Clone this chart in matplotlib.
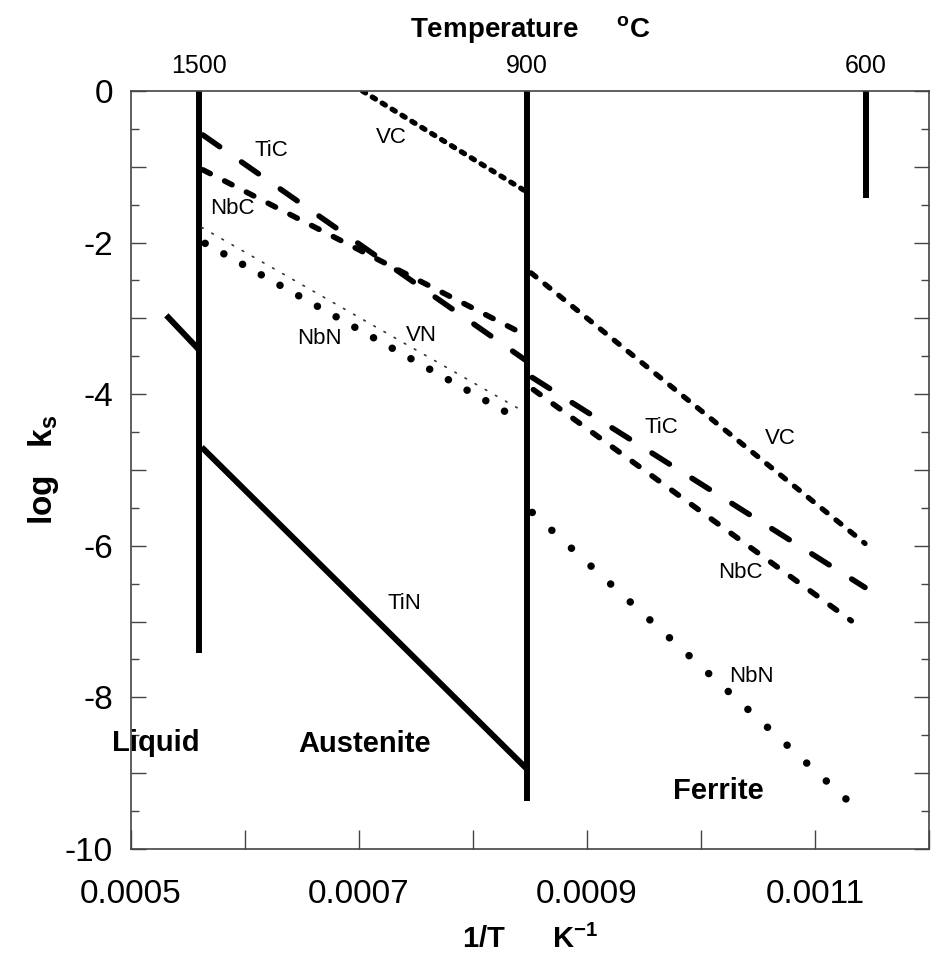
import matplotlib
matplotlib.use("Agg")
import matplotlib.pyplot as plt
from matplotlib.ticker import MultipleLocator, FixedLocator, FuncFormatter

plt.rcParams['font.family'] = ['Liberation Sans', 'DejaVu Sans']
plt.rcParams['axes.unicode_minus'] = False
plt.rcParams['mathtext.fontset'] = 'custom'
plt.rcParams['mathtext.rm'] = 'Liberation Sans'
plt.rcParams['mathtext.bf'] = 'Liberation Sans:bold'

# phase boundaries in 1/T (1500, 900, 600 C) and where each line stops
boundary_x = [0.000560, 0.000847, 0.001145]
boundary_lab = ['1500', '900', '600']
boundary_low = [-7.41, -9.37, -1.41]

# log ks vs 1/T, end points of each straight segment
vc_aus_x = [0.000703, 0.000847]
vc_aus_y = [0.0, -1.33]
vc_fer_x = [0.000851, 0.001144]
vc_fer_y = [-2.40, -5.97]

tic_aus_x = [0.000563, 0.000846]
tic_aus_y = [-0.58, -3.55]
tic_fer_x = [0.000852, 0.001144]
tic_fer_y = [-3.78, -6.55]

nbc_aus_x = [0.000563, 0.000846]
nbc_aus_y = [-1.04, -3.22]
nbc_fer_x = [0.000853, 0.001132]
nbc_fer_y = [-3.94, -6.99]

vn_aus_x = [0.000562, 0.000840]
vn_aus_y = [-1.80, -4.19]

nbn_aus_x = [0.000565, 0.000839]
nbn_aus_y = [-2.01, -4.32]
nbn_fer_x = [0.000852, 0.001128]
nbn_fer_y = [-5.56, -9.35]

tin_liq_x = [0.000531, 0.000560]
tin_liq_y = [-2.96, -3.42]
tin_aus_x = [0.000562, 0.000847]
tin_aus_y = [-4.70, -8.94]

# curve names written on the plot
name_txt = ['TiC', 'VC', 'NbC', 'NbN', 'VN', 'TiC', 'VC', 'NbC', 'NbN', 'TiN']
name_x = [0.000623, 0.000728, 0.000589, 0.000665, 0.000755,
          0.000965, 0.001070, 0.001035, 0.001044, 0.000740]
name_y = [-0.78, -0.62, -1.55, -3.26, -3.22, -4.44, -4.58, -6.35, -7.73, -6.76]

phase_txt = ['Liquid', 'Austenite', 'Ferrite']
phase_x = [0.000522, 0.000705, 0.001015]
phase_y = [-8.60, -8.61, -9.23]

fig = plt.figure(figsize=(9.32, 9.73), dpi=100)
ax = fig.add_axes([0.1406, 0.1275, 0.856, 0.7790])

for bx, lo in zip(boundary_x, boundary_low):
    ax.plot([bx, bx], [0, lo], color='k', lw=4.3, solid_capstyle='butt')

ax.plot(tin_liq_x, tin_liq_y, color='k', lw=4.3, solid_capstyle='butt')
ax.plot(tin_aus_x, tin_aus_y, color='k', lw=4.3, solid_capstyle='butt')

ax.plot(vc_aus_x, vc_aus_y, color='k', lw=3.8, dashes=(0.7, 1.5), dash_capstyle='round')
ax.plot(vc_fer_x, vc_fer_y, color='k', lw=3.8, dashes=(1.2, 2.18), dash_capstyle='round')

ax.plot(tic_aus_x, tic_aus_y, color='k', lw=4.0, dashes=(3.7, 4.8), dash_capstyle='round')
ax.plot(tic_fer_x, tic_fer_y, color='k', lw=4.0, dashes=(3.7, 4.8), dash_capstyle='round')

ax.plot(nbc_aus_x, nbc_aus_y, color='k', lw=4.0, dashes=(1.5, 2.9), dash_capstyle='round')
ax.plot(nbc_fer_x, nbc_fer_y, color='k', lw=4.0, dashes=(1.5, 2.9), dash_capstyle='round')

ax.plot(vn_aus_x, vn_aus_y, color='#333333', lw=1.2, dashes=(1, 6), dash_capstyle='round')

ax.plot(nbn_aus_x, nbn_aus_y, color='k', lw=5.4, dashes=(0.01, 2.85), dash_capstyle='round')
ax.plot(nbn_fer_x, nbn_fer_y, color='k', lw=5.4, dashes=(0.01, 3.53), dash_capstyle='round')

for t, x, y in zip(name_txt, name_x, name_y):
    ax.text(x, y, t, fontsize=16, ha='center', va='center')
for t, x, y in zip(phase_txt, phase_x, phase_y):
    ax.text(x, y, t, fontsize=21, fontweight='bold', ha='center', va='center')

ax.set_xlim(0.0005, 0.0012)
ax.set_ylim(-10, 0)

# bottom / top ticks every 1e-4, labels on odd ones
xt = [0.0005, 0.0006, 0.0007, 0.0008, 0.0009, 0.0010, 0.0011, 0.0012]
xl = ['0.0005', '', '0.0007', '', '0.0009', '', '0.0011', '']
ax.xaxis.set_major_locator(FixedLocator(xt))
ax.set_xticklabels(xl)
ax.yaxis.set_major_locator(MultipleLocator(1))
ax.yaxis.set_minor_locator(MultipleLocator(0.5))
ax.yaxis.set_major_formatter(FuncFormatter(lambda v, p: '%d' % v if round(v) % 2 == 0 else ''))

ax.tick_params(axis='x', direction='in', top=True, length=14, width=1.0,
               labelsize=24, pad=22, color='#444444')
ax.tick_params(axis='y', which='major', direction='in', right=True, length=11,
               width=1.0, labelsize=24, pad=13, color='#444444')
ax.tick_params(axis='y', which='minor', direction='in', right=True, length=6,
               width=1.0, color='#444444')
for s in ax.spines.values():
    s.set_color('#444444')
    s.set_linewidth(1.2)

ax.set_xlabel(r'1/T      K$^{\mathbf{-1}}$', fontsize=21, fontweight='bold', labelpad=10)
ax.set_ylabel(r'log   k$_{\mathbf{s}}$', fontsize=24, fontweight='bold', labelpad=3)

top = ax.twiny()
top.set_xlim(ax.get_xlim())
top.set_xticks(boundary_x)
top.set_xticklabels(boundary_lab)
top.tick_params(axis='x', length=0, labelsize=18, pad=9)
top.set_xlabel(r'Temperature     $^{\mathbf{o}}$C', fontsize=20, fontweight='bold', labelpad=12)
for s in top.spines.values():
    s.set_visible(False)

fig.savefig('out.png', dpi=100)
